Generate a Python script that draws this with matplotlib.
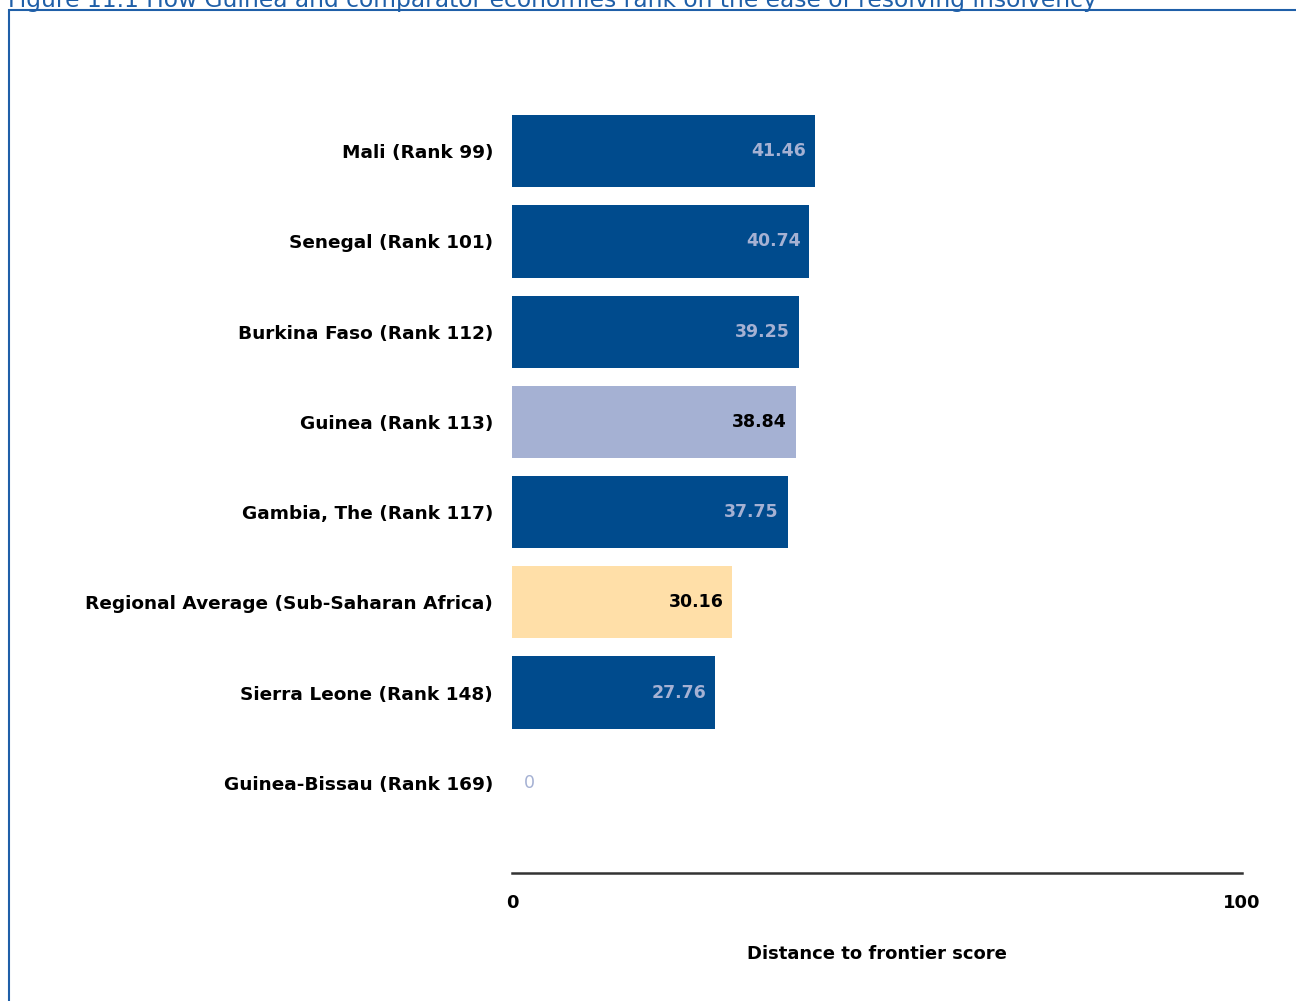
import matplotlib.pyplot as plt
from matplotlib.patches import Rectangle

# DATA

economies = ['Mali (Rank 99)', 'Senegal (Rank 101)', 'Burkina Faso (Rank 112)',
             'Guinea (Rank 113)', 'Gambia, The (Rank 117)',
             'Regional Average (Sub-Saharan Africa)', 'Sierra Leone (Rank 148)',
             'Guinea-Bissau (Rank 169)']
scores = [41.46, 40.74, 39.25, 38.84, 37.75, 30.16, 27.76, 0]
labels = ['41.46', '40.74', '39.25', '38.84', '37.75', '30.16', '27.76', '0']
x_ticks = [0, 100]

# COLOURS

dark_blue = '#004B8D'
light_blue = '#A5B1D3'
sand = '#FFDFA8'
bar_colors = [dark_blue, dark_blue, dark_blue, light_blue, dark_blue, sand, dark_blue, dark_blue]
text_colors = [light_blue, light_blue, light_blue, 'black', light_blue, 'black', light_blue, light_blue]

plt.rcParams['font.family'] = 'DejaVu Sans'

fig = plt.figure(figsize=(12.96, 10.01), dpi=100)
ax = fig.add_axes([512 / 1296, 1 - 873 / 1001, 730 / 1296, 812 / 1001])

y_pos = list(range(len(economies)))
ax.barh(y_pos, scores, height=0.8, color=bar_colors)

for i in range(len(economies)):
    if scores[i] > 0:
        ax.text(scores[i] - 1.2, y_pos[i], labels[i], ha='right', va='center',
                fontsize=12.5, fontweight='bold', color=text_colors[i])
    else:
        ax.text(1.6, y_pos[i], labels[i], ha='left', va='center',
                fontsize=12.5, color=text_colors[i])

ax.set_xlim(0, 100)
ax.set_ylim(8, -1)
ax.set_yticks(y_pos)
ax.set_yticklabels(economies, fontsize=13.3, fontweight='bold')
ax.set_xticks(x_ticks)
ax.set_xticklabels([str(t) for t in x_ticks], fontsize=13, fontweight='bold')
ax.tick_params(axis='both', length=0)
ax.tick_params(axis='y', pad=13.5)
ax.tick_params(axis='x', pad=15)
ax.set_xlabel('Distance to frontier score', fontsize=13, fontweight='bold', labelpad=24)

for side in ['top', 'right', 'left']:
    ax.spines[side].set_visible(False)
ax.spines['bottom'].set_linewidth(1.8)
ax.spines['bottom'].set_color('#333333')

# frame and clipped title

fig.patches.append(Rectangle((9 / 1296, -0.05), 1.1, 1 - 10 / 1001 + 0.05,
                             transform=fig.transFigure, fill=False,
                             edgecolor='#1F5FA8', linewidth=1.5))
fig.text(8 / 1296, 1 - 1 / 1001, 'Figure 11.1 How Guinea and comparator economies rank on the ease of resolving insolvency',
         fontsize=16.8, color='#1F5FA8', va='center', ha='left')

fig.savefig('out.png', dpi=100)
